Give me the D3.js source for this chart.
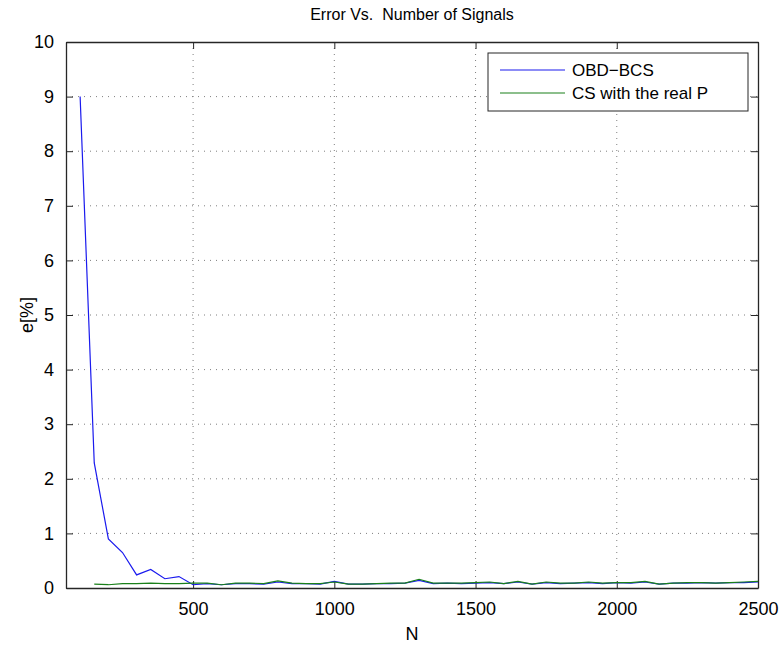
<!DOCTYPE html>
<html>
<head>
<meta charset="utf-8">
<script src="https://cdn.jsdelivr.net/npm/d3@7"></script>
<style>
  body { margin: 0; background: #fff; }
  text { font-family: "Liberation Sans", Arial, sans-serif; fill: #000; }
</style>
</head>
<body>
<div id="chart"></div>
<script>
// data
var nBlue = [100, 150, 200, 250, 300, 350, 400, 450, 500, 550, 600, 650, 700, 750, 800, 850, 900, 950,
             1000, 1050, 1100, 1150, 1200, 1250, 1300, 1350, 1400, 1450, 1500, 1550, 1600, 1650, 1700, 1750,
             1800, 1850, 1900, 1950, 2000, 2050, 2100, 2150, 2200, 2250, 2300, 2350, 2400, 2450, 2500];
var obdBcs = [9.0, 2.29, 0.90, 0.65, 0.24, 0.34, 0.17, 0.21, 0.06, 0.08, 0.06, 0.08, 0.08, 0.07, 0.11, 0.08, 0.08, 0.07,
              0.12, 0.07, 0.07, 0.08, 0.08, 0.09, 0.14, 0.08, 0.09, 0.08, 0.09, 0.10, 0.08, 0.11, 0.07, 0.10,
              0.08, 0.09, 0.10, 0.08, 0.10, 0.09, 0.11, 0.07, 0.09, 0.09, 0.10, 0.09, 0.10, 0.10, 0.11];
var nGreen = nBlue.slice(1);
var csReal = [0.07, 0.06, 0.08, 0.08, 0.09, 0.08, 0.08, 0.09, 0.09, 0.06, 0.09, 0.09, 0.08, 0.13, 0.09, 0.08, 0.08,
              0.11, 0.07, 0.07, 0.08, 0.09, 0.09, 0.16, 0.09, 0.09, 0.09, 0.10, 0.11, 0.08, 0.12, 0.07, 0.11,
              0.09, 0.09, 0.11, 0.09, 0.10, 0.10, 0.12, 0.07, 0.09, 0.10, 0.10, 0.09, 0.10, 0.11, 0.12];
var xTicks = [500, 1000, 1500, 2000, 2500];
var yTicks = [0, 1, 2, 3, 4, 5, 6, 7, 8, 9, 10];
var seriesNames = ["OBD\u2212BCS", "CS with the real P"];
var seriesColors = ["#1a1aee", "#1a801a"];

var W = 783, H = 647,
    margin = { top: 42, right: 25, bottom: 59, left: 66 },
    width = W - margin.left - margin.right,
    height = H - margin.top - margin.bottom;

var svg = d3.select("#chart").append("svg")
    .attr("width", W)
    .attr("height", H);

var g = svg.append("g")
    .attr("transform", "translate(" + margin.left + "," + margin.top + ")");

var x = d3.scaleLinear().domain([50, 2500]).range([0, width]);
var y = d3.scaleLinear().domain([0, 10]).range([height, 0]);

// grid
g.selectAll(".xgrid").data(xTicks.slice(0, -1)).enter().append("line")
    .attr("x1", function(d) { return x(d); }).attr("x2", function(d) { return x(d); })
    .attr("y1", 0).attr("y2", height)
    .style("stroke", "#7f7f7f").style("stroke-width", 1).style("stroke-dasharray", "1,5");
g.selectAll(".ygrid").data(yTicks.slice(1, -1)).enter().append("line")
    .attr("y1", function(d) { return y(d); }).attr("y2", function(d) { return y(d); })
    .attr("x1", 0).attr("x2", width)
    .style("stroke", "#7f7f7f").style("stroke-width", 1).style("stroke-dasharray", "1,5");

// axes, ticks inside like matlab
var tick = 7;
var xb = g.append("g").attr("transform", "translate(0," + height + ")")
    .call(d3.axisBottom(x).tickValues(xTicks).tickFormat(d3.format("d")).tickSizeInner(-tick).tickSizeOuter(0).tickPadding(14));
var xt = g.append("g")
    .call(d3.axisTop(x).tickValues(xTicks).tickSizeInner(-tick).tickSizeOuter(0).tickFormat(""));
var yl = g.append("g")
    .call(d3.axisLeft(y).tickValues(yTicks).tickSizeInner(-tick).tickSizeOuter(0).tickPadding(12));
var yr = g.append("g").attr("transform", "translate(" + width + ",0)")
    .call(d3.axisRight(y).tickValues(yTicks).tickSizeInner(-tick).tickSizeOuter(0).tickFormat(""));
[xb, xt, yl, yr].forEach(function(a) {
  a.selectAll("line").style("stroke", "#262626");
  a.select(".domain").style("stroke", "#262626").style("stroke-width", 1.3);
  a.selectAll("text").style("font-size", "18px").style("font-family", "Liberation Sans, Arial, sans-serif").attr("fill", "#000");
});

// lines
var line = d3.line()
    .x(function(d) { return x(d[0]); })
    .y(function(d) { return y(d[1]); });

g.append("path")
    .datum(d3.zip(nBlue, obdBcs))
    .attr("d", line)
    .style("fill", "none").style("stroke", seriesColors[0]).style("stroke-width", 1.2);
g.append("path")
    .datum(d3.zip(nGreen, csReal))
    .attr("d", line)
    .style("fill", "none").style("stroke", seriesColors[1]).style("stroke-width", 1.2);

// legend
var lg = g.append("g").attr("transform", "translate(" + (488 - margin.left) + "," + (53 - margin.top) + ")");
lg.append("rect")
    .attr("width", 260).attr("height", 58)
    .style("fill", "#fff").style("stroke", "#262626").style("stroke-width", 1);
seriesNames.forEach(function(name, i) {
  lg.append("line")
    .attr("x1", 12).attr("x2", 77)
    .attr("y1", 17 + i * 23).attr("y2", 17 + i * 23)
    .style("stroke", seriesColors[i]).style("stroke-width", 1.2);
  lg.append("text")
    .attr("x", 84).attr("y", 17 + i * 23)
    .attr("dy", "0.35em")
    .style("font-size", "17px")
    .text(name);
});

// titles
svg.append("text")
    .attr("x", margin.left + width / 2).attr("y", 20)
    .attr("text-anchor", "middle")
    .style("font-size", "16px")
    .style("white-space", "pre")
    .text("Error Vs.  Number of Signals");
svg.append("text")
    .attr("x", margin.left + width / 2).attr("y", 640)
    .attr("text-anchor", "middle")
    .style("font-size", "18px")
    .text("N");
svg.append("text")
    .attr("transform", "translate(33," + (margin.top + height / 2) + ") rotate(-90)")
    .attr("text-anchor", "middle")
    .style("font-size", "18px")
    .text("e[%]");
</script>
</body>
</html>
